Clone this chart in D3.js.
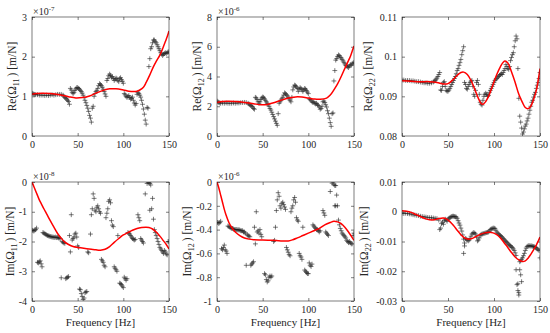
<!DOCTYPE html>
<html><head><meta charset="utf-8">
<script src="https://cdn.jsdelivr.net/npm/d3@7"></script>
<style>body{margin:0;background:#fff}svg{display:block}svg text{font-family:"Liberation Serif",serif !important}</style>
</head><body><svg id="c" width="550" height="333"></svg>
<script>
// ---------- DATA (values as shown on axes, i.e. in units of the axis multiplier) ----------
const freqTicks = [0, 50, 100, 150];

const re11Meas = [[0,1.08],[1,1.07],[2,1.05],[3,1.05],[4,1.04],[6,1.04],[8,1.03],[10,1.03],[12,1.03],[14,1.02],[16,1.03],[18,1.02],[20,1.03],[22,1.04],[24,1.03],[26,1.04],[28,1.05],[30,1.05],[32,1.05],[34,1.03],[35,1.0],[36,0.97],[37,0.95],[38,0.93],[39,0.9],[40,0.87],[41,0.8],[42,1.2],[43,1.16],[44,1.1],[45,1.07],[46,1.1],[47,1.15],[48,1.19],[49,1.22],[50,1.22],[51,1.2],[52,1.18],[53,1.15],[54,1.12],[55,1.08],[56,1.03],[57,0.97],[58,0.9],[59,0.84],[60,0.77],[61,0.7],[62,0.62],[63,0.52],[64,0.45],[65,0.35],[66,0.7],[67,0.75],[68,1.0],[69,1.07],[70,1.12],[71,1.15],[72,1.2],[73,1.27],[74,1.32],[75,1.3],[76,1.27],[77,1.23],[78,1.18],[79,1.12],[80,1.06],[81,1.0],[82,1.4],[83,1.45],[84,1.52],[85,1.56],[86,1.53],[87,1.48],[88,1.5],[89,1.45],[90,1.4],[91,1.43],[92,1.46],[93,1.44],[94,1.4],[95,1.37],[96,1.45],[97,1.47],[98,1.42],[99,1.38],[100,1.33],[101,1.07],[102,1.04],[103,1.0],[104,0.97],[105,1.0],[106,1.02],[107,0.97],[108,0.93],[109,0.95],[110,0.98],[111,0.9],[112,0.83],[113,0.78],[114,0.82],[115,1.05],[116,1.1],[117,1.07],[118,1.03],[119,0.98],[120,0.9],[121,0.8],[122,0.68],[123,0.55],[124,0.4],[125,0.3],[126,0.72],[127,0.7],[128,1.75],[129,1.95],[130,2.2],[131,2.25],[132,2.35],[133,2.42],[134,2.42],[135,2.38],[136,2.35],[137,2.3],[138,2.25],[139,2.2],[140,2.15],[141,2.1],[142,2.06],[143,2.03],[144,2.06],[145,2.08],[146,2.1],[147,2.08],[148,2.1],[149,2.12],[150,2.12]];
const re11Fit = [[0,1.05],[5,1.07],[12,1.08],[20,1.07],[30,1.04],[40,0.99],[48,0.96],[55,0.97],[63,1.01],[70,1.08],[78,1.15],[85,1.19],[92,1.19],[100,1.16],[106,1.13],[111,1.12],[115,1.13],[118,1.16],[122,1.23],[125,1.35],[129,1.54],[133,1.75],[136,1.88],[140,2.04],[143,2.2],[146,2.38],[148,2.5],[150,2.65]];

const re12Meas = [[0,2.35],[1,2.3],[2,2.25],[3,2.22],[4,2.2],[6,2.22],[8,2.2],[10,2.22],[12,2.2],[14,2.2],[16,2.2],[18,2.22],[20,2.2],[22,2.22],[24,2.22],[26,2.24],[28,2.25],[30,2.26],[32,2.25],[34,2.2],[35,2.15],[36,2.1],[37,2.05],[38,2.0],[39,1.95],[40,1.85],[41,1.8],[42,2.6],[43,2.55],[44,2.45],[45,2.3],[46,2.2],[47,2.3],[48,2.45],[49,2.55],[50,2.62],[51,2.6],[52,2.5],[53,2.4],[54,2.3],[55,2.2],[56,2.1],[57,2.0],[58,1.85],[59,1.75],[60,1.6],[61,1.45],[62,1.3],[63,1.15],[64,1.0],[65,0.85],[66,0.72],[67,1.5],[68,2.2],[69,2.3],[70,2.4],[71,2.5],[72,2.6],[73,2.75],[74,2.9],[75,2.85],[76,2.78],[77,2.7],[78,2.6],[79,2.5],[80,2.4],[81,2.3],[82,2.6],[83,3.1],[84,3.3],[85,3.42],[86,3.38],[87,3.3],[88,3.2],[89,3.0],[90,3.15],[91,3.25],[92,3.2],[93,3.1],[94,3.0],[95,3.1],[96,3.2],[97,3.15],[98,3.05],[99,2.95],[100,2.85],[101,2.5],[102,2.45],[103,2.4],[104,2.3],[105,2.25],[106,2.3],[107,2.2],[108,2.15],[109,2.2],[110,2.1],[111,2.05],[112,1.95],[113,1.8],[114,1.85],[115,2.0],[116,2.3],[117,2.35],[118,2.25],[119,2.1],[120,1.95],[121,1.7],[122,1.5],[123,1.2],[124,0.9],[125,0.65],[126,1.5],[127,1.55],[128,3.7],[129,4.4],[130,5.1],[131,5.2],[132,5.35],[133,5.45],[134,5.4],[135,5.3],[136,5.25],[137,5.15],[138,5.05],[139,4.95],[140,4.85],[141,4.75],[142,4.7],[143,4.65],[144,4.6],[145,4.7],[146,4.8],[147,4.75],[148,4.85],[149,4.9],[150,4.95]];
const re12Fit = [[0,2.25],[6,2.32],[12,2.34],[20,2.32],[30,2.26],[40,2.17],[48,2.1],[55,2.12],[63,2.25],[70,2.4],[78,2.55],[86,2.63],[93,2.62],[100,2.55],[107,2.48],[113,2.47],[120,2.55],[124,2.75],[128,3.1],[132,3.5],[136,4.0],[140,4.55],[143,4.95],[146,5.35],[148,5.7],[150,6.05]];

const re22Meas = [[0,0.0941],[2,0.0941],[4,0.094],[6,0.094],[8,0.094],[10,0.0939],[12,0.0939],[14,0.0938],[16,0.0937],[18,0.0937],[20,0.0936],[22,0.0935],[24,0.0934],[26,0.0934],[28,0.0933],[30,0.0933],[32,0.0934],[34,0.0936],[35,0.0938],[36,0.094],[37,0.0943],[38,0.0946],[39,0.095],[40,0.0955],[41,0.096],[42,0.0916],[43,0.0915],[44,0.0925],[45,0.0935],[46,0.0937],[47,0.0925],[48,0.0915],[49,0.0913],[50,0.0913],[51,0.0916],[52,0.092],[53,0.0925],[54,0.093],[55,0.0935],[56,0.094],[57,0.0945],[58,0.095],[59,0.0957],[60,0.0965],[61,0.097],[62,0.0978],[63,0.0985],[64,0.0993],[65,0.1005],[66,0.1015],[67,0.1025],[68,0.0935],[69,0.093],[70,0.092],[71,0.0918],[72,0.0925],[73,0.093],[74,0.0935],[75,0.0938],[76,0.094],[77,0.0925],[78,0.0905],[79,0.09],[80,0.0915],[81,0.0935],[82,0.094],[83,0.093],[84,0.0905],[85,0.0885],[86,0.088],[87,0.0878],[88,0.089],[89,0.09],[90,0.0905],[91,0.0908],[92,0.0905],[93,0.09],[94,0.0902],[95,0.091],[96,0.0915],[97,0.092],[98,0.0925],[99,0.093],[100,0.0935],[101,0.094],[102,0.0943],[103,0.0945],[104,0.0948],[105,0.095],[106,0.0953],[107,0.0955],[108,0.0957],[109,0.0955],[110,0.096],[111,0.0965],[112,0.097],[113,0.098],[114,0.0975],[115,0.097],[116,0.0968],[117,0.0975],[118,0.099],[119,0.0998],[120,0.1005],[121,0.101],[122,0.1025],[123,0.104],[124,0.1052],[125,0.1045],[126,0.097],[127,0.0895],[128,0.085],[129,0.0835],[130,0.082],[131,0.0805],[132,0.081],[133,0.0818],[134,0.0825],[135,0.083],[136,0.0838],[137,0.0845],[138,0.0855],[139,0.0865],[140,0.0875],[141,0.0885],[142,0.089],[143,0.0898],[144,0.0905],[145,0.091],[146,0.092],[147,0.0928],[148,0.0935],[149,0.0945],[150,0.096]];
const re22Fit = [[0,0.0939],[10,0.0938],[20,0.0937],[30,0.0937],[38,0.0935],[45,0.0931],[50,0.0932],[55,0.0941],[60,0.0953],[64,0.096],[67,0.0961],[71,0.0955],[75,0.094],[79,0.0918],[83,0.0895],[86,0.0882],[88,0.088],[91,0.0887],[95,0.0905],[99,0.093],[103,0.0955],[107,0.0975],[110,0.0986],[112,0.0989],[115,0.0984],[119,0.0962],[123,0.0935],[127,0.0905],[131,0.0884],[134,0.0872],[137,0.0869],[140,0.0875],[143,0.0892],[146,0.0915],[148,0.094],[150,0.097]];

const im11Meas = [[0,-1.62],[1,-1.63],[2,-1.65],[3,-1.62],[4,-1.6],[5,-1.55],[6,-2.7],[7,-2.72],[8,-2.68],[9,-2.65],[10,-2.75],[11,-2.85],[12,-1.7],[13,-1.72],[14,-1.74],[15,-1.76],[16,-1.78],[17,-1.8],[18,-1.81],[19,-1.82],[20,-1.83],[21,-1.84],[22,-1.85],[23,-1.85],[24,-1.86],[25,-1.86],[26,-1.85],[27,-1.87],[28,-1.86],[29,-1.88],[30,-1.88],[31,-1.9],[32,-3.22],[33,-2.0],[34,-2.03],[35,-2.05],[36,-2.06],[37,-3.25],[38,-3.22],[39,-3.2],[40,-3.18],[41,-1.8],[42,-2.35],[43,-1.1],[44,-1.95],[45,-1.9],[46,-1.85],[47,-1.75],[48,-1.72],[49,-1.85],[50,-2.15],[51,-2.2],[52,-3.6],[53,-3.62],[54,-3.75],[55,-3.85],[56,-3.95],[57,-3.9],[58,-3.72],[59,-3.7],[60,-3.68],[61,-2.35],[62,-2.38],[64,-1.75],[65,-1.1],[66,-0.9],[67,-0.4],[68,-0.55],[69,-0.95],[70,-1.0],[71,-0.85],[72,-0.8],[73,-0.9],[74,-1.0],[75,-1.05],[76,-2.6],[77,-2.65],[78,-2.7],[79,-2.8],[80,-2.85],[81,-1.2],[82,-1.05],[83,-0.9],[84,-0.65],[85,-0.6],[86,-0.7],[87,-1.3],[88,-1.45],[89,-1.5],[90,-2.85],[91,-2.9],[92,-2.95],[93,-3.0],[94,-1.8],[96,-3.4],[97,-3.42],[98,-3.45],[99,-3.5],[100,-3.55],[101,-3.2],[102,-3.25],[103,-3.3],[104,-3.25],[105,-1.7],[106,-1.72],[107,-1.75],[108,-1.8],[109,-1.85],[110,-1.9],[111,-1.92],[112,-1.95],[113,-1.93],[116,-1.1],[117,-1.2],[118,-1.3],[119,-1.9],[120,-1.95],[121,-2.0],[122,-2.05],[124,-0.4],[126,-0.05],[127,0.0],[128,-0.02],[129,-0.05],[130,-0.1],[129,-0.95],[131,-0.9],[132,-0.55],[133,-1.25],[134,-1.6],[135,-1.7],[136,-1.8],[137,-1.9],[138,-2.0],[139,-2.1],[140,-2.2],[141,-2.25],[142,-2.3],[143,-2.35],[144,-2.4],[145,-2.3],[146,-2.35],[147,-2.42],[148,-2.45],[149,-2.0],[150,-2.0]];
const im11Fit = [[0,0],[2,-0.15],[4,-0.3],[6,-0.45],[8,-0.6],[10,-0.72],[13,-0.9],[16,-1.07],[20,-1.3],[24,-1.52],[28,-1.73],[32,-1.89],[36,-2.02],[40,-2.1],[45,-2.17],[50,-2.2],[55,-2.22],[60,-2.24],[65,-2.26],[70,-2.28],[75,-2.29],[80,-2.26],[85,-2.17],[90,-2.03],[95,-1.9],[100,-1.78],[105,-1.7],[110,-1.62],[115,-1.56],[120,-1.53],[125,-1.52],[128,-1.53],[132,-1.58],[136,-1.68],[140,-1.82],[144,-1.98],[147,-2.1],[150,-2.25]];

const im12Meas = [[0,-0.34],[1,-0.34],[2,-0.35],[3,-0.34],[4,-0.33],[5,-0.56],[6,-0.57],[7,-0.55],[8,-0.53],[9,-0.57],[10,-0.58],[11,-0.6],[12,-0.37],[13,-0.375],[14,-0.38],[15,-0.385],[16,-0.39],[17,-0.39],[18,-0.395],[19,-0.4],[20,-0.4],[21,-0.4],[22,-0.4],[23,-0.405],[24,-0.4],[25,-0.405],[26,-0.41],[27,-0.41],[28,-0.41],[29,-0.42],[30,-0.42],[31,-0.43],[32,-0.7],[33,-0.44],[34,-0.45],[35,-0.455],[36,-0.46],[37,-0.7],[38,-0.69],[39,-0.68],[40,-0.67],[41,-0.38],[42,-0.52],[43,-0.25],[44,-0.42],[45,-0.41],[46,-0.43],[47,-0.4],[48,-0.44],[49,-0.46],[52,-0.77],[53,-0.78],[54,-0.82],[55,-0.84],[56,-0.83],[57,-0.8],[58,-0.79],[59,-0.8],[60,-0.79],[62,-0.5],[63,-0.49],[64,-0.38],[65,-0.24],[66,-0.15],[67,-0.09],[68,-0.12],[69,-0.2],[70,-0.22],[71,-0.18],[72,-0.17],[73,-0.19],[74,-0.21],[75,-0.23],[76,-0.55],[77,-0.57],[78,-0.59],[79,-0.61],[80,-0.62],[81,-0.25],[82,-0.22],[83,-0.2],[84,-0.15],[85,-0.13],[86,-0.17],[87,-0.3],[88,-0.32],[89,-0.33],[90,-0.6],[91,-0.62],[92,-0.63],[93,-0.65],[94,-0.38],[96,-0.74],[97,-0.75],[98,-0.76],[99,-0.77],[100,-0.77],[101,-0.68],[102,-0.7],[103,-0.71],[104,-0.69],[105,-0.36],[106,-0.37],[107,-0.38],[108,-0.39],[109,-0.4],[110,-0.4],[111,-0.41],[112,-0.42],[113,-0.41],[116,-0.24],[117,-0.26],[118,-0.28],[119,-0.42],[120,-0.43],[121,-0.44],[122,-0.45],[124,-0.08],[126,-0.01],[127,0.0],[128,-0.02],[129,-0.03],[130,-0.03],[129,-0.2],[130,-0.2],[131,-0.11],[132,-0.2],[133,-0.32],[134,-0.36],[135,-0.39],[136,-0.41],[137,-0.43],[138,-0.44],[139,-0.45],[140,-0.46],[141,-0.47],[142,-0.49],[143,-0.5],[144,-0.51],[145,-0.5],[146,-0.51],[147,-0.52],[148,-0.52],[149,-0.45],[150,-0.43]];
const im12Fit = [[0,0],[2,-0.05],[4,-0.11],[6,-0.17],[8,-0.23],[10,-0.28],[13,-0.34],[16,-0.38],[20,-0.42],[25,-0.45],[30,-0.47],[35,-0.48],[40,-0.485],[50,-0.487],[60,-0.49],[70,-0.495],[78,-0.495],[83,-0.485],[88,-0.47],[94,-0.45],[100,-0.43],[106,-0.41],[112,-0.39],[118,-0.36],[124,-0.34],[128,-0.33],[132,-0.335],[136,-0.35],[140,-0.38],[144,-0.42],[147,-0.455],[150,-0.49]];

const im22Meas = [[0,-0.0005],[2,-0.0006],[4,-0.0005],[6,-0.0006],[8,-0.0007],[10,-0.0008],[12,-0.001],[14,-0.0011],[16,-0.0012],[18,-0.0013],[20,-0.0015],[22,-0.0016],[24,-0.0017],[26,-0.0018],[28,-0.0019],[30,-0.002],[32,-0.002],[34,-0.0021],[36,-0.0022],[38,-0.0023],[40,-0.0028],[41,-0.006],[42,-0.0055],[43,-0.004],[44,-0.0035],[45,-0.0042],[46,-0.003],[47,-0.0025],[48,-0.0028],[49,-0.0032],[50,-0.0025],[51,-0.0022],[52,-0.002],[53,-0.0018],[54,-0.0016],[55,-0.0015],[56,-0.0015],[57,-0.0016],[58,-0.0017],[59,-0.0018],[60,-0.0022],[61,-0.003],[62,-0.0038],[63,-0.0045],[64,-0.0055],[65,-0.0065],[66,-0.0078],[67,-0.0092],[67,-0.014],[68,-0.0115],[68,-0.0105],[69,-0.009],[70,-0.0092],[71,-0.0095],[72,-0.0098],[73,-0.0095],[74,-0.009],[75,-0.0082],[76,-0.0075],[77,-0.0072],[78,-0.007],[79,-0.0072],[80,-0.0075],[81,-0.0085],[82,-0.0098],[83,-0.0095],[84,-0.0088],[85,-0.008],[86,-0.0076],[87,-0.0075],[88,-0.0074],[89,-0.0073],[90,-0.0072],[91,-0.0071],[92,-0.007],[93,-0.0069],[94,-0.0068],[95,-0.0065],[96,-0.006],[97,-0.0058],[98,-0.0057],[99,-0.0055],[100,-0.0055],[101,-0.0056],[102,-0.0062],[103,-0.0068],[104,-0.0072],[105,-0.0075],[106,-0.0078],[107,-0.008],[108,-0.0083],[109,-0.0086],[110,-0.009],[111,-0.0093],[112,-0.0097],[113,-0.01],[114,-0.0103],[115,-0.0106],[116,-0.011],[117,-0.0113],[118,-0.0115],[119,-0.0118],[120,-0.012],[121,-0.0125],[122,-0.013],[123,-0.0138],[124,-0.0147],[124,-0.0195],[125,-0.0245],[126,-0.0242],[126,-0.0265],[127,-0.0272],[127,-0.028],[128,-0.0195],[128,-0.0168],[129,-0.0212],[129,-0.0165],[130,-0.0235],[130,-0.016],[131,-0.0155],[132,-0.0148],[133,-0.014],[134,-0.013],[135,-0.0122],[136,-0.0117],[137,-0.0115],[138,-0.0114],[139,-0.0115],[140,-0.0115],[141,-0.0115],[142,-0.0116],[143,-0.0117],[144,-0.0118],[145,-0.012],[146,-0.0122],[147,-0.0125],[148,-0.0128],[149,-0.013],[150,-0.0155]];
const im22Fit = [[0,0.0003],[5,0.0002],[10,-0.0002],[15,-0.0009],[20,-0.0016],[25,-0.0023],[30,-0.0027],[35,-0.0027],[40,-0.0023],[45,-0.0021],[48,-0.0024],[52,-0.0033],[56,-0.0046],[60,-0.0062],[64,-0.0077],[68,-0.0088],[72,-0.0092],[76,-0.009],[80,-0.0084],[85,-0.0076],[90,-0.0071],[95,-0.0069],[99,-0.0071],[103,-0.0077],[107,-0.0088],[111,-0.0104],[115,-0.012],[119,-0.0137],[123,-0.0152],[127,-0.0162],[131,-0.0167],[134,-0.0165],[137,-0.0156],[140,-0.0143],[143,-0.0128],[146,-0.0112],[148,-0.0099],[150,-0.0085]];

const re11Ticks = [0, 1, 2, 3];
const re12Ticks = [0, 2, 4, 6, 8];
const re22Ticks = [0.08, 0.09, 0.1, 0.11];
const im11Ticks = [-4, -3, -2, -1, 0];
const im12Ticks = [-1, -0.8, -0.6, -0.4, -0.2, 0];
const im22Ticks = [-0.03, -0.02, -0.01, 0, 0.01];

const yLabels = [["Re(Ω","11"],["Re(Ω","12"],["Re(Ω","22"],["Im(Ω","11"],["Im(Ω","12"],["Im(Ω","22"]];
const exponents = ["-7", "-6", null, "-8", "-6", null];
const xLabel = "Frequency [Hz]";

// ---------- LAYOUT ----------
const cols = [[32,169],[217,354],[402,540]];
const rows = [[17,136],[182,301]];
const labelX = [16, 201, 372, 14, 191, 368];
const AX = "#262626";
const FONT = "Liberation Serif";

const panels = [
  {meas: re11Meas, fit: re11Fit, ticks: re11Ticks},
  {meas: re12Meas, fit: re12Fit, ticks: re12Ticks},
  {meas: re22Meas, fit: re22Fit, ticks: re22Ticks},
  {meas: im11Meas, fit: im11Fit, ticks: im11Ticks},
  {meas: im12Meas, fit: im12Fit, ticks: im12Ticks},
  {meas: im22Meas, fit: im22Fit, ticks: im22Ticks}
];

const svg = d3.select("#c").attr("font-family", FONT);
const fmt = v => String(v);

panels.forEach((p, i) => {
  const c = i % 3, r = Math.floor(i / 3);
  const [x0, x1] = cols[c], [y0, y1] = rows[r];
  const x = d3.scaleLinear().domain([0, 150]).range([x0, x1]);
  const y = d3.scaleLinear().domain(d3.extent(p.ticks)).range([y1, y0]);
  const g = svg.append("g");

  const clipId = "clip" + i;
  svg.append("clipPath").attr("id", clipId).append("rect")
    .attr("x", x0).attr("y", y0).attr("width", x1 - x0).attr("height", y1 - y0);

  const styleAxis = sel => {
    sel.attr("font-family", FONT).attr("font-size", 10);
    sel.select(".domain").remove();
    sel.selectAll("line").attr("stroke", AX).attr("stroke-width", 0.6);
    sel.selectAll("text").attr("fill", AX);
  };
  g.append("g").attr("transform", `translate(0,${y1})`)
    .call(d3.axisBottom(x).tickValues(freqTicks).tickSize(-3).tickPadding(5).tickFormat(fmt)).call(styleAxis);
  g.append("g").attr("transform", `translate(0,${y0})`)
    .call(d3.axisTop(x).tickValues(freqTicks).tickSize(-3).tickFormat("")).call(styleAxis);
  g.append("g").attr("transform", `translate(${x0},0)`)
    .call(d3.axisLeft(y).tickValues(p.ticks).tickSize(-3).tickPadding(5).tickFormat(fmt)).call(styleAxis);
  g.append("g").attr("transform", `translate(${x1},0)`)
    .call(d3.axisRight(y).tickValues(p.ticks).tickSize(-3).tickFormat("")).call(styleAxis);

  const dg = g.append("g").attr("clip-path", `url(#${clipId})`);
  dg.selectAll("path.m").data(p.meas).join("path").attr("class", "m")
    .attr("transform", d => `translate(${x(d[0])},${y(d[1])})`)
    .attr("d", "M-2.4,0H2.4M0,-2.4V2.4")
    .attr("stroke", "#222").attr("stroke-width", 0.6).attr("fill", "none");

  dg.append("path").datum(p.fit)
    .attr("d", d3.line().x(d => x(d[0])).y(d => y(d[1])).curve(d3.curveCatmullRom))
    .attr("fill", "none").attr("stroke", "#ff0000").attr("stroke-width", 1.5);

  g.append("rect").attr("x", x0).attr("y", y0).attr("width", x1 - x0).attr("height", y1 - y0)
    .attr("fill", "none").attr("stroke", AX).attr("stroke-width", 0.6);

  if (exponents[i]) {
    const t = g.append("text").attr("x", x0 + 1).attr("y", y0 - 2.5)
      .attr("fill", AX).attr("font-size", 10).text("×10");
    t.append("tspan").attr("dy", -4).attr("font-size", 7).text(exponents[i]);
  }

  const lx = labelX[i], ly = (y0 + y1) / 2;
  const lt = g.append("text").attr("transform", `translate(${lx},${ly}) rotate(-90)`)
    .attr("text-anchor", "middle").attr("fill", AX).attr("font-size", 11.5);
  lt.append("tspan").text(yLabels[i][0]);
  lt.append("tspan").attr("dy", 3).attr("font-size", 8).text(yLabels[i][1]);
  lt.append("tspan").attr("dy", -3).attr("dx", 2).text(") [m/N]");

  if (r === 1) {
    g.append("text").attr("x", (x0 + x1) / 2).attr("y", 326).attr("text-anchor", "middle")
      .attr("fill", AX).attr("font-size", 11).text(xLabel);
  }
});
</script>
</body></html>
